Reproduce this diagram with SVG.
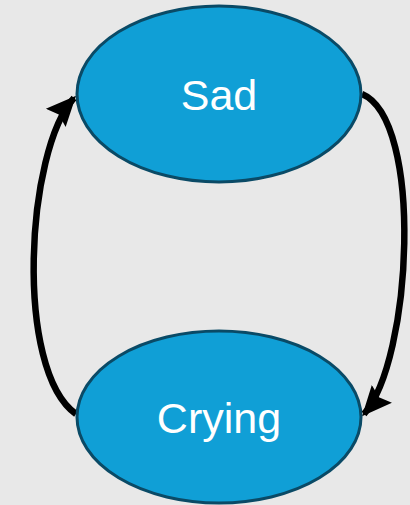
<svg xmlns="http://www.w3.org/2000/svg" width="410" height="505" viewBox="0 0 410 505">
<defs>
<style>
.node{fill:#109fd6;stroke:#0a4a66;stroke-width:3}
.lbl{fill:#ffffff;font-family:"Liberation Sans",Arial,sans-serif;font-size:43px;text-anchor:middle}
.edge{fill:none;stroke:#000;stroke-width:6.5}
</style>
<marker id="ah" viewBox="0 0 10 10" refX="9" refY="5" markerWidth="4.6" markerHeight="4.6" markerUnits="strokeWidth" orient="auto">
<path d="M0,0.5 L10,5 L0,9.5 L1.5,5 z" fill="#000"/>
</marker>
</defs>
<rect width="410" height="505" fill="#e8e8e8"/>
<g id="edges">
<path class="edge" d="M76,414 C14,370 26,150 74,98" marker-end="url(#ah)"/>
<path class="edge" d="M362,94 C424,120 412,360 364,414" marker-end="url(#ah)"/>
</g>
<g id="sad">
<ellipse class="node" cx="219" cy="94" rx="142" ry="88"/>
<text class="lbl" x="219" y="110">Sad</text>
</g>
<g id="crying">
<ellipse class="node" cx="219" cy="417" rx="142" ry="86"/>
<text class="lbl" x="219" y="433">Crying</text>
</g>
</svg>
